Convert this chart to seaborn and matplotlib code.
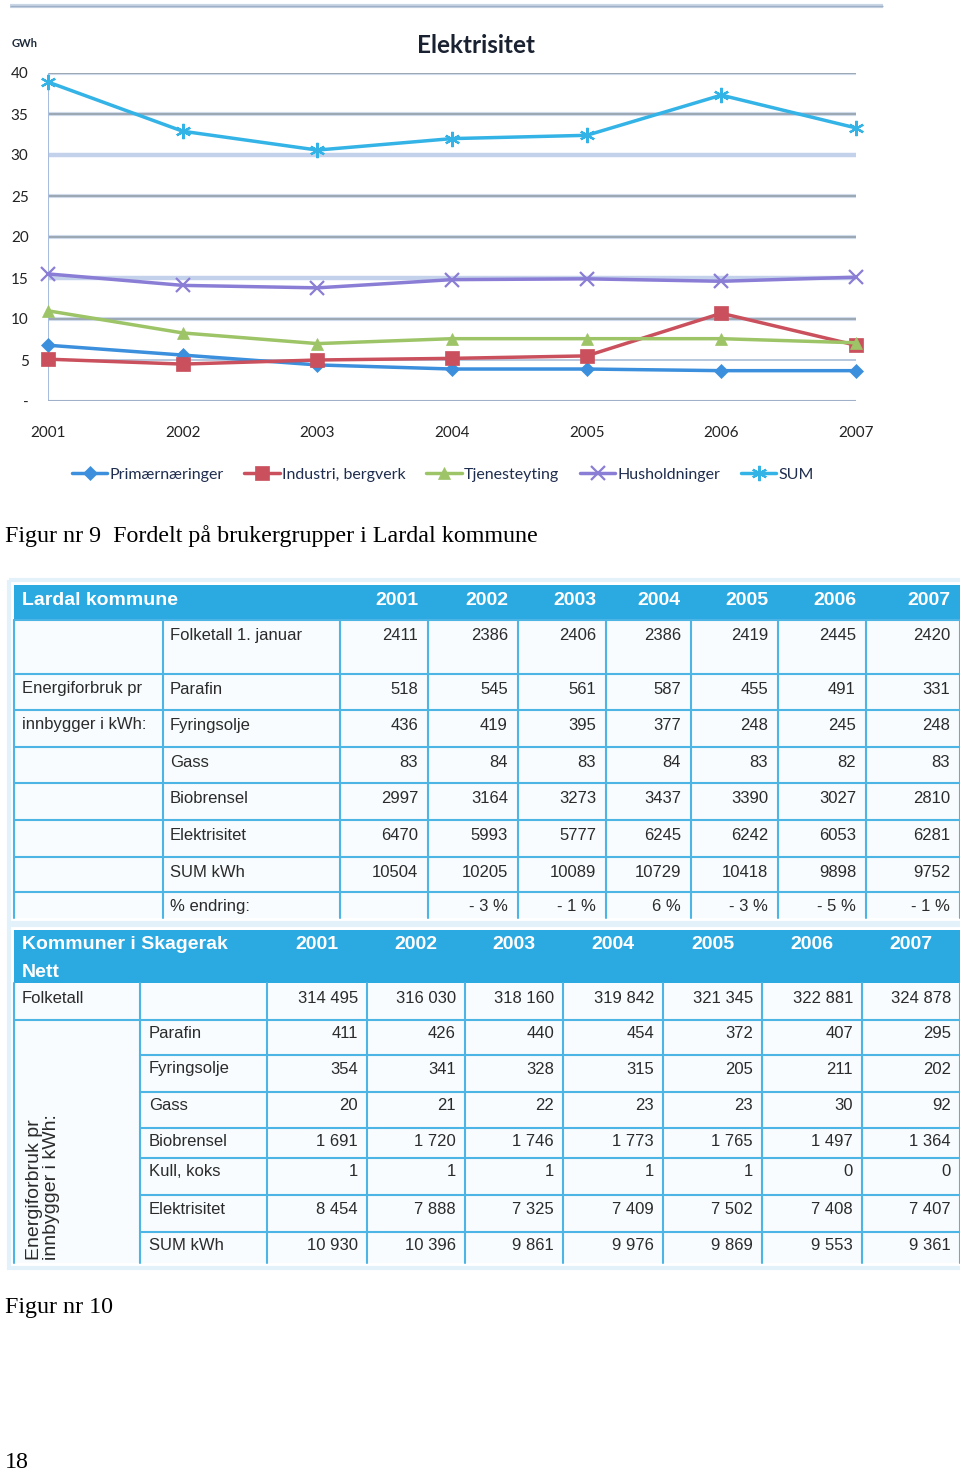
import matplotlib
matplotlib.use("Agg")
import matplotlib.pyplot as plt
from matplotlib.patches import Rectangle
import numpy as np
import pandas as pd
import seaborn as sns

# ---- data: line chart (GWh) ----
years = [2001, 2002, 2003, 2004, 2005, 2006, 2007]
primaer = [6.8, 5.6, 4.4, 3.9, 3.9, 3.7, 3.7]
industri = [5.1, 4.5, 5.0, 5.2, 5.5, 10.7, 6.8]
tjeneste = [11.0, 8.3, 7.0, 7.6, 7.6, 7.6, 7.1]
hushold = [15.5, 14.1, 13.8, 14.8, 14.9, 14.6, 15.1]
sum_gwh = [38.9, 32.9, 30.6, 32.0, 32.4, 37.3, 33.3]
serie_navn = ["Primærnæringer", "Industri, bergverk", "Tjenesteyting", "Husholdninger", "SUM"]

# ---- data: tabell Lardal ----
lardal_folketall = [2411, 2386, 2406, 2386, 2419, 2445, 2420]
lardal_parafin = [518, 545, 561, 587, 455, 491, 331]
lardal_fyringsolje = [436, 419, 395, 377, 248, 245, 248]
lardal_gass = [83, 84, 83, 84, 83, 82, 83]
lardal_bio = [2997, 3164, 3273, 3437, 3390, 3027, 2810]
lardal_elek = [6470, 5993, 5777, 6245, 6242, 6053, 6281]
lardal_sum = [10504, 10205, 10089, 10729, 10418, 9898, 9752]
lardal_endring = [None, -3, -1, 6, -3, -5, -1]

# ---- data: tabell Skagerak Nett ----
sk_folketall = [314495, 316030, 318160, 319842, 321345, 322881, 324878]
sk_parafin = [411, 426, 440, 454, 372, 407, 295]
sk_fyringsolje = [354, 341, 328, 315, 205, 211, 202]
sk_gass = [20, 21, 22, 23, 23, 30, 92]
sk_bio = [1691, 1720, 1746, 1773, 1765, 1497, 1364]
sk_kull = [1, 1, 1, 1, 1, 0, 0]
sk_elek = [8454, 7888, 7325, 7409, 7502, 7408, 7407]
sk_sum = [10930, 10396, 9861, 9976, 9869, 9553, 9361]

W, H = 960, 1474
sns.set_style("white")
plt.rcParams['font.family'] = ['Liberation Sans', 'DejaVu Sans']

fig = plt.figure(figsize=(W / 100, H / 100), dpi=100)
fig.patch.set_facecolor("white")

# bakgrunnsakse i pikselkoordinater for tabeller og tekst
bg = fig.add_axes([0, 0, 1, 1])
bg.set_xlim(0, W)
bg.set_ylim(H, 0)
bg.axis("off")

# linje øverst
bg.plot([10, 883], [6, 6], color="#c9d6e6", lw=3, solid_capstyle="butt")
bg.plot([10, 883], [6, 6], color="#9fb0c6", lw=1, solid_capstyle="butt")

bg.text(12, 43, "GWh", fontsize=8, fontweight="bold", family="Lato", color="#1d2a3a", va="center")
bg.text(476, 45, "Elektrisitet", fontsize=17.5, fontweight="bold", family="Lato", color="#1a2232",
        ha="center", va="center")

# ---- linjediagram ----
ax = fig.add_axes([48 / W, 1 - 401 / H, 808 / W, 328 / H])
ax.patch.set_alpha(0)
ax.set_xlim(2001, 2007)
ax.set_ylim(0, 40)
for s in ax.spines.values():
    s.set_visible(False)

for v in range(5, 45, 5):
    if v in (30, 15):
        ax.axhline(v, color="#c3d1ea", lw=3.2, zorder=0)
    elif v == 5:
        ax.axhline(v, color="#b8c6dc", lw=1.4, zorder=0)
    else:
        ax.axhline(v, color="#cfdbea", lw=3, zorder=0)
        ax.axhline(v, color="#8f99a6", lw=1.1, zorder=0)
ax.axvline(2001, color="#a8bddd", lw=1.5, zorder=0)
ax.axhline(0, color="#9fb0c8", lw=1.5, zorder=0)

farger = ["#3b8fdc", "#c9505c", "#9dc467", "#8a7dd6", "#34b3e6"]
markorer = ["D", "s", "^", "x", (6, 2, 0)]
msizes = [7, 9.5, 9, 10, 11]
verdier = [primaer, industri, tjeneste, hushold, sum_gwh]
for navn, vals, c, m, ms in zip(serie_navn, verdier, farger, markorer, msizes):
    sns.lineplot(x=years, y=vals, ax=ax, color=c, marker=m, markersize=ms, lw=2.5,
                 markeredgewidth=1.6 if m in ("x", (6, 2, 0)) else 0.5, markeredgecolor=c,
                 label=navn, clip_on=False, zorder=3)

ax.set_xticks(years)
ax.set_xticklabels([str(y) for y in years], family="Lato", fontsize=11, color="#222222")
ax.set_yticks(range(0, 45, 5))
ax.set_yticklabels(["-"] + [str(v) for v in range(5, 45, 5)], family="Lato", fontsize=11, color="#222222")
ax.tick_params(axis="x", length=6, width=1.2, color="#9fb0c8", pad=12, direction="out")
ax.tick_params(axis="y", length=0, pad=14)
for lab in ax.get_yticklabels():
    lab.set_horizontalalignment("right")
ax.set_xlabel("")
ax.set_ylabel("")
leg = ax.legend(loc="center", bbox_to_anchor=(443 / W, 1 - 475 / H), bbox_transform=fig.transFigure,
                ncol=5, frameon=False, handlelength=2.2, handletextpad=0.15, columnspacing=1.3,
                prop={"family": "Lato", "size": 11.5})
for t in leg.get_texts():
    t.set_color("#1f2d4e")

# ---- bildetekster ----
serif = ["Liberation Serif", "DejaVu Serif"]
bg.text(5, 536, "Figur nr 9  Fordelt på brukergrupper i Lardal kommune", family=serif, fontsize=17.3,
        va="center", color="black")
bg.text(5, 1308, "Figur nr 10", family=serif, fontsize=17.3, va="center", color="black")
bg.text(5, 1463, "18", family=serif, fontsize=17.3, va="center", color="black")

# ---- tabeller ----
blaa = "#2ba9e1"
linje = "#4cb5e6"
txt = "#2b2b2b"


def tall(v, sep=False):
    if v is None:
        return ""
    return f"{v:,}".replace(",", " ") if sep else str(v)


def ramme(cols, rows):
    x0, x1, y0, y1 = cols[0], cols[-1], rows[0], rows[-1]
    bg.add_patch(Rectangle((x0 - 5, y0 - 5), x1 - x0 + 10, y1 - y0 + 10, facecolor="none",
                           edgecolor="#e2f1fa", lw=3))
    bg.add_patch(Rectangle((x0, y0), x1 - x0, y1 - y0, facecolor="#f8fcfe", edgecolor="none"))
    bg.add_patch(Rectangle((x0, y0), x1 - x0, rows[1] - y0, facecolor=blaa, edgecolor="none"))


# Tabell 1: Lardal kommune
c1 = [14, 163, 340, 428, 518, 606, 691, 778, 866, 960]
r1 = [585, 620, 674, 710, 747, 783, 820, 857, 892, 918]
ramme(c1, r1)
for y in r1[1:-1]:
    bg.plot([c1[0], c1[-1]], [y, y], color=linje, lw=1.5)
for x in c1:
    bg.plot([x, x], [r1[1], r1[-1]], color=linje, lw=1.5)
bg.text(22, 600, "Lardal kommune", color="white", fontsize=14, fontweight="bold", va="center")
for i, yr in enumerate(years):
    bg.text(c1[i + 3] - 10, 600, str(yr), color="white", fontsize=14, fontweight="bold",
            ha="right", va="center")

rader1 = [("Folketall 1. januar", lardal_folketall), ("Parafin", lardal_parafin),
          ("Fyringsolje", lardal_fyringsolje), ("Gass", lardal_gass), ("Biobrensel", lardal_bio),
          ("Elektrisitet", lardal_elek), ("SUM kWh", lardal_sum)]
for k, (navn, vals) in enumerate(rader1):
    y = r1[k + 1] + 15
    bg.text(170, y, navn, color=txt, fontsize=12, va="center")
    for i, v in enumerate(vals):
        bg.text(c1[i + 3] - 10, y, tall(v), color=txt, fontsize=12, ha="right", va="center")
y = r1[8] + 14
bg.text(170, y, "% endring:", color=txt, fontsize=12, va="center")
for i, v in enumerate(lardal_endring):
    if v is not None:
        s = f"- {abs(v)} %" if v < 0 else f"{v} %"
        bg.text(c1[i + 3] - 10, y, s, color=txt, fontsize=12, ha="right", va="center")
bg.text(22, r1[2] + 14, "Energiforbruk pr", color=txt, fontsize=12, va="center")
bg.text(22, r1[3] + 14, "innbygger i kWh:", color=txt, fontsize=12, va="center")

# Tabell 2: Kommuner i Skagerak Nett
c2 = [14, 140, 267, 367, 465, 563, 663, 762, 862, 960]
r2 = [930, 983, 1020, 1055, 1092, 1128, 1158, 1195, 1232, 1263]
ramme(c2, r2)
bg.plot([c2[0], c2[-1]], [r2[2], r2[2]], color=linje, lw=1.5)
for y in r2[3:-1]:
    bg.plot([c2[1], c2[-1]], [y, y], color=linje, lw=1.5)
for x in c2:
    bg.plot([x, x], [r2[1], r2[-1]], color=linje, lw=1.5)
bg.text(22, 944, "Kommuner i Skagerak", color="white", fontsize=14, fontweight="bold", va="center")
bg.text(22, 972, "Nett", color="white", fontsize=14, fontweight="bold", va="center")
for i, yr in enumerate(years):
    bg.text((c2[i + 2] + c2[i + 3]) / 2, 944, str(yr), color="white", fontsize=14, fontweight="bold",
            ha="center", va="center")
bg.text(22, r2[1] + 15, "Folketall", color=txt, fontsize=12, va="center")
for i, v in enumerate(sk_folketall):
    bg.text(c2[i + 3] - 9, r2[1] + 15, tall(v, True), color=txt, fontsize=12, ha="right", va="center")

rader2 = [("Parafin", sk_parafin), ("Fyringsolje", sk_fyringsolje), ("Gass", sk_gass),
          ("Biobrensel", sk_bio), ("Kull, koks", sk_kull), ("Elektrisitet", sk_elek),
          ("SUM kWh", sk_sum)]
for k, (navn, vals) in enumerate(rader2):
    y = r2[k + 2] + 14
    bg.text(149, y, navn, color=txt, fontsize=12, va="center")
    for i, v in enumerate(vals):
        bg.text(c2[i + 3] - 9, y, tall(v, True), color=txt, fontsize=12, ha="right", va="center")
bg.text(43, 1260, "Energiforbruk pr\ninnbygger i kWh:", color=txt, fontsize=14, rotation=90,
        ha="center", va="bottom", multialignment="left", linespacing=1.0)

fig.savefig("out.png", dpi=100, facecolor="white")
